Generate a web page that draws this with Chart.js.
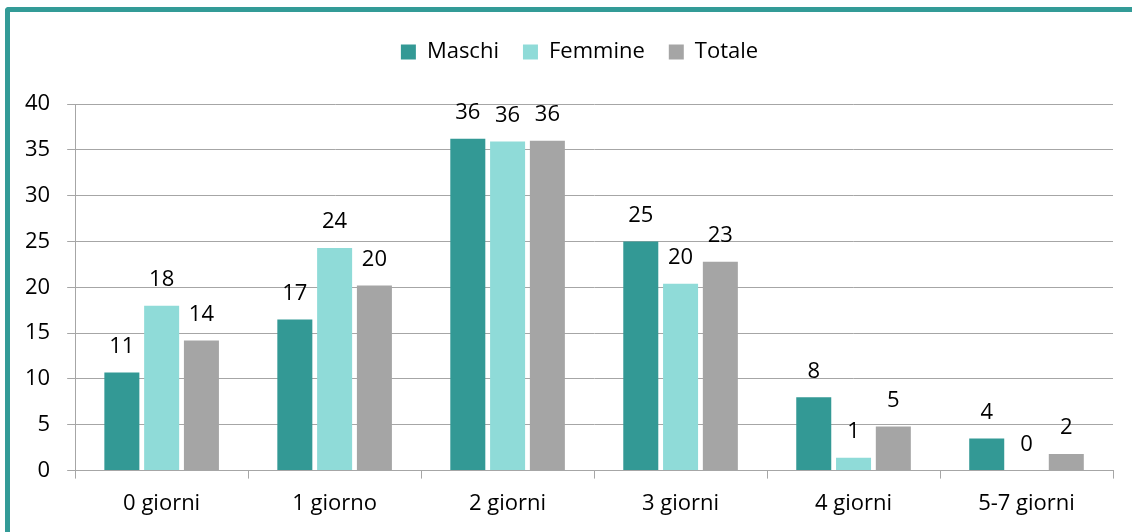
<!DOCTYPE html>
<html>
<head>
<meta charset="utf-8">
<script src="https://cdn.jsdelivr.net/npm/chart.js@4.4.0/dist/chart.umd.min.js"></script>
<style>
    body { margin: 0; background: #fff; overflow: hidden; }
    #frame {
        position: absolute; left: 5px; top: 7px; width: 1200px; height: 600px;
        border-left: 5px solid #339b97; border-top: 5px solid #339b97;
        border-top-left-radius: 4px; pointer-events: none;
    }
    #wrap { position: absolute; left: 0; top: 0; width: 1132px; height: 532px; }
</style>
</head>
<body>
<div id="wrap"><canvas id="giorni-chart"></canvas></div>
<div id="frame"></div>
<script>
const categories = ['0 giorni', '1 giorno', '2 giorni', '3 giorni', '4 giorni', '5-7 giorni'];
const maschi = [10.7, 16.5, 36.2, 25.0, 8.0, 3.5];
const femmine = [18.0, 24.3, 35.9, 20.4, 1.4, 0];
const totale = [14.2, 20.2, 36.0, 22.8, 4.8, 1.8];
const seriesNames = ['Maschi', 'Femmine', 'Totale'];
const seriesColors = ['#339995', '#8fdbd8', '#a5a5a5'];

const fontFamily = '"Open Sans", Lato, sans-serif';
const fontSize = 22;

// etichette sopra le barre (valori arrotondati)
const valueLabels = {
    id: 'valueLabels',
    afterDatasetsDraw(chart) {
        const ctx = chart.ctx;
        ctx.save();
        ctx.font = fontSize + 'px ' + fontFamily;
        ctx.fillStyle = '#000';
        ctx.textAlign = 'center';
        ctx.textBaseline = 'middle';
        chart.data.datasets.forEach((ds, i) => {
            const meta = chart.getDatasetMeta(i);
            meta.data.forEach((bar, j) => {
                ctx.fillText(Math.round(ds.data[j]), bar.x, bar.y - 26);
            });
        });
        ctx.restore();
    }
};

// spazio extra sotto la legenda, e legenda un po' spostata a destra
const legendGap = {
    id: 'legendGap',
    beforeInit(chart) {
        const origFit = chart.legend.fit;
        chart.legend.fit = function () {
            origFit.bind(chart.legend)();
            this.height += 31;
        };
    },
    afterLayout(chart) {
        chart.legend.left += 19;
        chart.legend.right += 19;
    }
};

const chartData = {
    labels: categories,
    datasets: [maschi, femmine, totale].map((values, i) => ({
        label: seriesNames[i],
        data: values,
        backgroundColor: seriesColors[i],
        barPercentage: 0.88,
        categoryPercentage: 0.69
    }))
};

const config = {
    type: 'bar',
    data: chartData,
    options: {
        responsive: false,
        animation: false,
        layout: { padding: { left: 8, right: 19, top: 17, bottom: 3 } },
        plugins: {
            legend: {
                position: 'top',
                labels: {
                    boxWidth: 15, boxHeight: 15, padding: 24,
                    color: '#000',
                    font: { size: fontSize, family: fontFamily }
                }
            },
            tooltip: { enabled: false }
        },
        scales: {
            x: {
                grid: { offset: true, drawOnChartArea: false, drawTicks: true, tickLength: 8, color: '#a6a6a6' },
                border: { color: '#a6a6a6' },
                ticks: { color: '#000', padding: 12, font: { size: fontSize, family: fontFamily } }
            },
            y: {
                min: 0, max: 40,
                ticks: { stepSize: 5, color: '#000', padding: 17, font: { size: fontSize, family: fontFamily } },
                grid: { color: '#a6a6a6', tickLength: 8 },
                border: { color: '#a6a6a6' }
            }
        }
    },
    plugins: [valueLabels, legendGap]
};

const canvas = document.getElementById('giorni-chart');
canvas.width = 1132;
canvas.height = 532;
new Chart(canvas, config);
</script>
</body>
</html>
